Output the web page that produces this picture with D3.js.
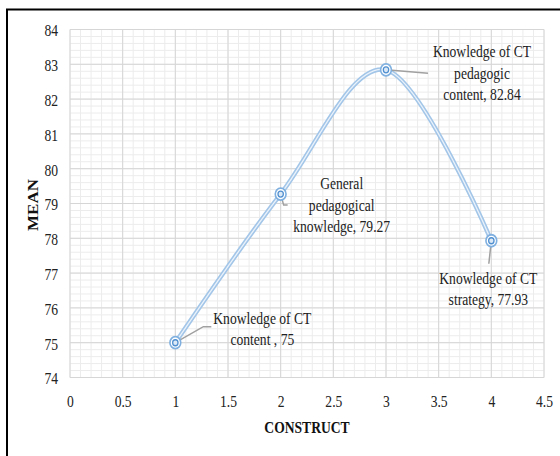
<!DOCTYPE html>
<html>
<head>
<meta charset="utf-8">
<script src="https://cdn.jsdelivr.net/npm/d3@7"></script>
<style>
  html, body { margin: 0; padding: 0; background: #fff; }
  svg { display: block; font-family: "Liberation Serif", "Times New Roman", serif; }
</style>
</head>
<body>
<div class="wrapper"></div>
<script>
const constructs = [1, 2, 3, 4]
const means = [75, 79.27, 82.84, 77.93]
const labels = [
  ['Knowledge of CT', 'content , 75'],
  ['General', 'pedagogical', 'knowledge, 79.27'],
  ['Knowledge of CT', 'pedagogic', 'content, 82.84'],
  ['Knowledge of CT', 'strategy, 77.93'],
]
const xTicks = [0, 0.5, 1, 1.5, 2, 2.5, 3, 3.5, 4, 4.5]
const yTicks = [74, 75, 76, 77, 78, 79, 80, 81, 82, 83, 84]

// label placement relative to each point (px)
const labelPos = [
  { dx: 87, dy: -19, leader: [[0, 0], [28, -16], [36, -16]] },
  { dx: 61, dy: -5, leader: [[0, 0], [3, 11], [7, 11]] },
  { dx: 96, dy: -12.5, leader: [[0, 0], [42, 3.5]] },
  { dx: -3, dy: 43, leader: [[0, 0], [-2.5, 23]] },
]

const width = 560, height = 456
const sx = 0.8 // the source picture is squeezed horizontally

const x = d3.scaleLinear().domain([0, 4.5]).range([70, 544])
const y = d3.scaleLinear().domain([74, 84]).range([377.5, 29.5])

const svg = d3.select('.wrapper')
  .append('svg')
  .attr('width', width)
  .attr('height', height)

svg.append('rect')
  .attr('width', width)
  .attr('height', height)
  .attr('fill', '#fff')

// minor grid
const grid = svg.append('g')
grid.selectAll('.vminor')
  .data(d3.range(0, 46).map(d => d / 10))
  .enter().append('line')
  .attr('x1', d => x(d)).attr('x2', d => x(d))
  .attr('y1', y(74)).attr('y2', y(84))
  .attr('stroke', '#ececec')
grid.selectAll('.hminor')
  .data(d3.range(0, 51).map(d => 74 + d / 5))
  .enter().append('line')
  .attr('y1', d => y(d)).attr('y2', d => y(d))
  .attr('x1', x(0)).attr('x2', x(4.5))
  .attr('stroke', '#ececec')

// major grid
grid.selectAll('.vmajor')
  .data(xTicks)
  .enter().append('line')
  .attr('x1', d => x(d)).attr('x2', d => x(d))
  .attr('y1', y(74)).attr('y2', y(84))
  .attr('stroke', '#d6d6d6')
grid.selectAll('.hmajor')
  .data(yTicks)
  .enter().append('line')
  .attr('y1', d => y(d)).attr('y2', d => y(d))
  .attr('x1', x(0)).attr('x2', x(4.5))
  .attr('stroke', '#d6d6d6')

// axes (labels only)
const yAxis = svg.append('g')
  .attr('transform', `translate(${x(0)},0)`)
  .call(d3.axisLeft(y).tickValues(yTicks).tickSize(0).tickPadding(15).tickFormat(d3.format('d')))
const xAxis = svg.append('g')
  .attr('transform', `translate(0,${y(74)})`)
  .call(d3.axisBottom(x).tickValues(xTicks).tickSize(0).tickPadding(17.5).tickFormat(d => d))

;[xAxis, yAxis].forEach(a => {
  a.select('.domain').remove()
  a.selectAll('text')
    .attr('font-family', '"Liberation Serif", serif')
    .attr('font-size', 17)
    .attr('fill', '#222')
    .attr('transform', `scale(${sx},1)`)
})
yAxis.selectAll('text').attr('dy', '0.38em')

// axis titles
svg.append('text')
  .attr('transform', `translate(307,433) scale(${sx},1)`)
  .attr('text-anchor', 'middle')
  .attr('font-size', 17)
  .attr('font-weight', 'bold')
  .attr('fill', '#111')
  .text('CONSTRUCT')

svg.append('text')
  .attr('transform', `translate(38,205) scale(${sx},1) rotate(-90)`)
  .attr('text-anchor', 'middle')
  .attr('font-size', 17)
  .attr('font-weight', 'bold')
  .attr('fill', '#111')
  .text('MEAN')

const points = constructs.map((c, i) => ({ c, m: means[i], label: labels[i], pos: labelPos[i] }))

// smooth line, drawn as a double stroke
const line = d3.line()
  .x(d => x(d.c))
  .y(d => y(d.m))
  .curve(d3.curveCardinal.tension(0))

svg.append('path')
  .datum(points)
  .attr('d', line)
  .attr('fill', 'none')
  .attr('stroke', '#a3c6e8')
  .attr('stroke-width', 4.5)
svg.append('path')
  .datum(points)
  .attr('d', line)
  .attr('fill', 'none')
  .attr('stroke', '#eaf2fb')
  .attr('stroke-width', 1.3)

// leader lines
svg.selectAll('.leader')
  .data(points)
  .enter().append('polyline')
  .attr('points', d => d.pos.leader.map(p => [x(d.c) + p[0], y(d.m) + p[1]].join(',')).join(' '))
  .attr('fill', 'none')
  .attr('stroke', '#a0a0a0')
  .attr('stroke-width', 1.5)

// markers
const mk = svg.selectAll('.marker')
  .data(points)
  .enter().append('g')
  .attr('transform', d => `translate(${x(d.c)},${y(d.m)}) scale(${sx + 0.1},1)`)
mk.append('circle')
  .attr('r', 6)
  .attr('fill', '#fff')
  .attr('stroke', '#7fb0e0')
  .attr('stroke-width', 1.8)
mk.append('circle')
  .attr('r', 3)
  .attr('fill', '#dbe8f6')
  .attr('stroke', '#4f8fd0')
  .attr('stroke-width', 1.4)

// data labels
const lab = svg.selectAll('.dlabel')
  .data(points)
  .enter().append('text')
  .attr('transform', d => `translate(${x(d.c) + d.pos.dx},${y(d.m) + d.pos.dy}) scale(${sx},1)`)
  .attr('text-anchor', 'middle')
  .attr('font-size', 17)
  .attr('fill', '#222')
lab.selectAll('tspan')
  .data(d => d.label)
  .enter().append('tspan')
  .attr('x', 0)
  .attr('y', (d, i) => i * 21.5)
  .text(d => d)

// outer frame
svg.append('rect')
  .attr('x', 7)
  .attr('y', 9.5)
  .attr('width', 600)
  .attr('height', 500)
  .attr('fill', 'none')
  .attr('stroke', '#000')
  .attr('stroke-width', 2)
</script>
</body>
</html>
